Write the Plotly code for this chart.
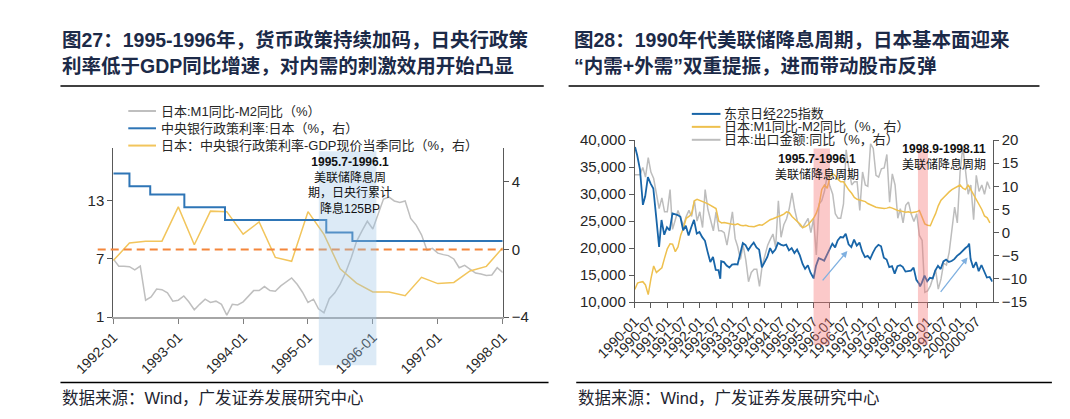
import plotly.graph_objects as go

W, H = 1070, 419


def px(x):
    return x / W


def py(y):
    return 1 - y / H


# ================= Fig.27 (left) data =================
left_months = [f"{1992 + i // 12}-{i % 12 + 1:02d}-01" for i in range(73)]
m1_m2_left = [7.0, 6.26, 6.26, 6.2, 5.87, 6.26, 2.74, 3.07, 3.89, 3.83, 3.5, 2.64,
              2.74, 3.17, 2.57, 1.75, 2.31, 2.84, 2.51, 2.64, 2.31, 1.2, 2.31, 2.25,
              2.57, 3.17, 3.73, 3.73, 4.15, 3.73, 3.66, 4.22, 4.61, 5.04, 4.38, 3.56,
              2.51, 2.84, 1.85, 1.43, 2.9, 3.5, 4.4, 5.6, 7.1, 8.8, 9.9, 10.9,
              10.1, 11.6, 13.2, 13.4, 13.0, 12.85, 13.0, 11.2, 10.5, 9.5, 7.9, 8.1,
              7.6, 7.45, 7.35, 7.0, 6.1, 6.35, 5.95, 5.55, 5.45, 5.3, 5.35, 6.1,
              5.6]
policy_dates = ["1992-01-01", "1992-04-01", "1992-07-27", "1993-02-04",
                "1993-09-21", "1995-04-14", "1995-09-08", "1998-01-01"]
policy_rate = [4.5, 3.75, 3.25, 2.5, 1.75, 1.0, 0.5, 0.5]
gap_quarters = [f"{1992 + i // 4}-{(i % 4) * 3 + 1:02d}-01" for i in range(25)]
rate_minus_gdp = [-0.66, 0.38, 0.49, 0.49, 2.52, 0.28, 2.27, 2.24, 0.91, 1.63,
                  -0.47, -0.7, 2.24, 0.89, -1.14, -1.99, -2.52, -2.52, -2.74,
                  -1.65, -2.02, -1.95, -1.27, -1.0, 0.1]
left_tickvals = [f"{y}-01-01" for y in range(1992, 1999)]
left_ticktext = [f"{y}-01" for y in range(1992, 1999)]

# ================= Fig.28 (right) data =================
right_months = [f"{1990 + i // 12}-{i % 12 + 1:02d}-01" for i in range(132)]
nikkei_close_dates = [f"{1990 + i // 12}-{i % 12 + 1:02d}-28" for i in range(132)]
nikkei_close = [37189, 34591, 29980, 29584, 33131, 31940, 31036, 25978, 20983, 25194, 22454, 23848,
                23293, 26409, 26292, 26111, 25790, 23290, 24121, 22336, 23916, 25222, 22687, 22984,
                22023, 21339, 19346, 17391, 18348, 15952, 15910, 17555, 17399, 16768, 16390, 16925,
                17024, 16953, 18591, 20919, 20552, 19590, 20380, 21027, 20106, 19703, 16408, 17417,
                18353, 19997, 19112, 19725, 20974, 20644, 20449, 20629, 19564, 19990, 19076, 19723,
                18650, 17053, 16140, 16807, 15437, 14517, 16678, 18117, 17913, 17655, 18744, 19868,
                20813, 20125, 21407, 22041, 21956, 22531, 20693, 20167, 21556, 20467, 21020, 19361,
                18330, 18557, 18003, 19151, 20069, 20605, 20331, 18229, 17888, 16459, 16636, 15259,
                16628, 16831, 16527, 15641, 15671, 15831, 16379, 14108, 13406, 13565, 14883, 13842,
                14499, 14368, 15837, 16701, 16112, 17530, 17862, 17437, 17605, 17942, 18558, 18934,
                19540, 19960, 20337, 17974, 16332, 17411, 15727, 16861, 15747, 14539, 14649, 13786]
nikkei_extreme_dates = ["1990-01-04", "1990-04-02", "1990-10-01", "1992-08-18",
                        "1995-07-03", "1996-06-26", "1998-10-09", "2000-04-12"]
nikkei_extreme = [38713, 28002, 20221, 14309, 14485, 22666, 12880, 20833]

m1_m2_right = [-12.3, -10.9, -10.7, -10.6, -11.3, -13.4, -10.0, -7.2, -8.6, -8.2, -7.6, -5.5,
               -3.5, -2.4, -2.5, -4.1, -3.1, -0.5, 1.0, 3.1, 3.5, 4.1, 6.9, 7.2,
               7.0, 6.8, 6.5, 6.2, 5.9, 5.5, 5.2, 2.5, 2.1, 2.2, 2.0, 1.9,
               1.8, 1.7, 1.9, 1.6, 1.5, 1.6, 1.4, 1.4, 1.3, 1.5, 1.7, 1.6,
               2.0, 2.4, 2.8, 3.0, 3.3, 3.5, 3.7, 4.0, 4.5, 4.3, 3.5, 3.0,
               2.4, 1.8, 1.1, 1.3, 1.7, 2.4, 3.1, 4.2, 5.9, 9.3, 10.3, 9.6,
               12.0, 12.7, 12.3, 11.5, 11.0, 11.0, 10.0, 9.2, 8.5, 7.6, 7.2, 7.0,
               6.9, 6.7, 6.3, 6.0, 5.7, 5.5, 5.4, 5.3, 5.2, 5.3, 5.5, 5.3,
               5.0, 4.8, 4.7, 4.5, 4.4, 4.5, 4.3, 4.4, 4.5, 4.8, 3.5, 1.9,
               1.6, 1.5, 2.8, 4.1, 5.8, 7.0, 7.6, 8.3, 8.8, 9.3, 9.6, 10.0,
               10.3, 9.6, 9.3, 10.3, 9.3, 8.3, 7.0, 6.0, 5.0, 3.6, 3.2, 2.1]
export_yoy = [12.5, 12.5, 12.5, 14.1, 12.0, 16.2, 13.1, 11.7, 8.3, 5.2, 7.5, 4.5,
              4.5, 9.3, 0.7, 2.8, 4.8, 3.1, 1.5, 3.5, 4.8, 3.5, 6.9, 2.5,
              4.5, 1.1, 9.3, 5.0, 3.0, 0.4, 4.5, 0.4, 0.4, 0.0, -2.7, 1.0,
              4.5, -1.3, -3.0, -5.8, -2.7, -6.0, -10.6, -8.6, -7.9, -7.9, -11.6, -7.2,
              -5.0, -2.7, -1.5, -0.3, -3.1, 6.9, -1.0, 1.7, 3.0, 5.2, 8.6, 5.0,
              2.4, 1.5, 1.1, 2.0, 3.1, 0.0, 3.0, -4.8, 6.2, 6.9, 9.0, 12.4,
              10.0, 8.3, 4.1, 3.1, 3.1, 6.2, 17.9, 13.8, 10.3, 11.0, 11.0, 4.8,
              13.1, 10.3, 10.0, 19.2, 18.2, 12.4, 12.0, 13.8, 14.0, 16.9, 6.6, 12.7,
              10.3, 3.1, 5.2, 2.1, 5.9, 6.6, 4.0, 2.4, 4.1, -0.6, -1.7, -12.9,
              -12.6, -11.5, -10.0, -8.0, -12.2, -10.0, -6.6, -7.0, -4.2, 0.5, 5.5, 2.1,
              13.1, 18.6, 14.1, 8.3, 10.3, 2.8, 12.4, 8.9, 10.3, 8.3, 11.0, 9.5]
right_tickvals = [f"{1990 + i // 2}-{'01' if i % 2 == 0 else '07'}-01" for i in range(22)]
right_ticktext = [t[:7] for t in right_tickvals]

# merge monthly closes with notable intramonth extremes (sorted by date)
nk_pairs = sorted(zip(nikkei_close_dates + nikkei_extreme_dates, nikkei_close + nikkei_extreme))
nk_dates = [d for d, _ in nk_pairs]
nk_vals = [v for _, v in nk_pairs]

# ================= styles =================
NUM_FONT = "Liberation Sans, Arial, sans-serif"
CJK_FONT = "Liberation Sans, Noto Sans CJK SC, sans-serif"
TXT = "#262626"
TITLE_COLOR = "#1C2A48"

GRAY_L = "#BFBFBF"
BLUE_L = "#2E75B6"
YEL_L = "#F2C55C"
BLUE_R = "#1865A8"
YEL_R = "#EEC04E"
GRAY_R = "#BDBDBD"

L_x = [px(67.3), px(475)]
L_y = [py(312.7), py(136.7)]
R_x = [px(613.3), px(988)]
R_y = [py(297.1), py(128.3)]

fig = go.Figure()

# ---- left traces ----
fig.add_trace(go.Scatter(x=left_months, y=m1_m2_left, xaxis="x", yaxis="y", mode="lines",
                         line=dict(color=GRAY_L, width=1.5)))
fig.add_trace(go.Scatter(x=gap_quarters, y=rate_minus_gdp, xaxis="x", yaxis="y2", mode="lines",
                         line=dict(color=YEL_L, width=1.5)))
fig.add_trace(go.Scatter(x=policy_dates, y=policy_rate, xaxis="x", yaxis="y2", mode="lines",
                         line=dict(color=BLUE_L, width=2, shape="hv")))

# ---- right traces ----
fig.add_trace(go.Scatter(x=right_months, y=export_yoy, xaxis="x2", yaxis="y3", mode="lines",
                         line=dict(color=GRAY_R, width=1.5)))
fig.add_trace(go.Scatter(x=right_months, y=m1_m2_right, xaxis="x2", yaxis="y3", mode="lines",
                         line=dict(color=YEL_R, width=1.5)))
fig.add_trace(go.Scatter(x=nk_dates, y=nk_vals, xaxis="x2", yaxis="y4", mode="lines",
                         line=dict(color=BLUE_R, width=1.8)))

axis_common = dict(showgrid=False, zeroline=False, showline=True, ticks="outside", ticklen=5)

fig.update_layout(
    width=W, height=H, margin=dict(l=0, r=0, t=0, b=0),
    paper_bgcolor="white", plot_bgcolor="rgba(0,0,0,0)", showlegend=False,
    xaxis=dict(domain=L_x, anchor="y", type="date", range=["1992-01-01", "1998-01-01"],
               tickmode="array", tickvals=left_tickvals, ticktext=left_ticktext, tickangle=-45,
               linecolor="#A6A6A6", linewidth=1.5, tickcolor="#7F7F7F",
               tickfont=dict(family=NUM_FONT, size=14, color=TXT), **axis_common),
    yaxis=dict(domain=L_y, anchor="x", range=[1, 18.46], tickmode="array", tickvals=[1, 7, 13],
               linecolor="#595959", linewidth=1, tickcolor="#595959",
               tickfont=dict(family=NUM_FONT, size=15, color=TXT), **axis_common),
    yaxis2=dict(overlaying="y", side="right", anchor="x", range=[-4, 6], tickmode="array",
                tickvals=[-4, 0, 4], linecolor="#595959", linewidth=1, tickcolor="#595959",
                tickfont=dict(family=NUM_FONT, size=15, color=TXT), **axis_common),
    xaxis2=dict(domain=R_x, anchor="y3", type="date", range=["1990-01-01", "2001-01-01"],
                tickmode="array", tickvals=right_tickvals, ticktext=right_ticktext, tickangle=-45,
                linecolor="#595959", linewidth=1, tickcolor="#595959",
                tickfont=dict(family=NUM_FONT, size=14, color=TXT), **axis_common),
    yaxis3=dict(domain=R_y, anchor="x2", side="right", range=[-15, 20], tickmode="linear",
                tick0=-15, dtick=5, linecolor="#595959", linewidth=1, tickcolor="#595959",
                tickfont=dict(family=NUM_FONT, size=15, color=TXT), **axis_common),
    yaxis4=dict(overlaying="y3", side="left", anchor="x2", range=[10000, 40000], tickmode="linear",
                tick0=10000, dtick=5000, tickformat=",", linecolor="#595959", linewidth=1,
                tickcolor="#595959", tickfont=dict(family=NUM_FONT, size=15, color=TXT),
                **axis_common),
)

shapes = []
# title underlines and footer rules
for x0, x1, y in [(12, 518, 72), (544, 1037, 72), (12, 523, 381), (552, 1050, 381)]:
    shapes.append(dict(type="line", xref="paper", yref="paper", x0=px(x0), x1=px(x1),
                       y0=py(y), y1=py(y), line=dict(color="black", width=1.5)))
# zero reference line (left panel, right axis)
shapes.append(dict(type="line", xref="paper", yref="y2", x0=px(51), x1=px(475), y0=0, y1=0,
                   line=dict(color="#F4863B", width=2, dash="8px,5px")))
# left shaded easing period
shapes.append(dict(type="rect", xref="x", yref="paper", x0="1995-03-03", x1="1996-01-21",
                   y0=py(363), y1=py(140), fillcolor="rgba(155,194,230,0.35)",
                   line=dict(width=0), layer="above"))
# right red easing bands
for a, b in [("1995-07-01", "1996-01-01"), ("1998-09-15", "1999-01-05")]:
    shapes.append(dict(type="rect", xref="x2", yref="paper", x0=a, x1=b,
                       y0=py(342), y1=py(137), fillcolor="rgba(245,120,120,0.4)",
                       line=dict(width=0), layer="above"))

# manual legends
left_legend = [("日本:M1同比-M2同比（%）", GRAY_L, 98),
               ("中央银行政策利率:日本（%，右）", BLUE_L, 116),
               ("日本：中央银行政策利率-GDP现价当季同比（%，右）", YEL_L, 134)]
right_legend = [("东京日经225指数", BLUE_R, 101),
                ("日本:M1同比-M2同比（%，右）", YEL_R, 114.5),
                ("日本:出口金额:同比（%，右）", GRAY_R, 128)]
annotations = []
for items, lx0, lx1, tx in [(left_legend, 83, 112, 116), (right_legend, 673, 703, 706)]:
    for text, color, y in items:
        shapes.append(dict(type="line", xref="paper", yref="paper", x0=px(lx0), x1=px(lx1),
                           y0=py(y), y1=py(y), line=dict(color=color, width=2)))
        annotations.append(dict(xref="paper", yref="paper", x=px(tx), y=py(y), text=text,
                                showarrow=False, xanchor="left", yanchor="middle", borderpad=0,
                                font=dict(family=CJK_FONT, size=13, color=TXT)))

# titles
titles = [("<b>图27：1995-1996年，货币政策持续加码，日央行政策</b>", 12, 24),
          ("<b>利率低于GDP同比增速，对内需的刺激效用开始凸显</b>", 12, 51),
          ("<b>图28：1990年代美联储降息周期，日本基本面迎来</b>", 548, 24),
          ("<b>“内需+外需”双重提振，进而带动股市反弹</b>", 548, 51)]
for text, x, y in titles:
    annotations.append(dict(xref="paper", yref="paper", x=px(x), y=py(y), text=text,
                            showarrow=False, xanchor="left", yanchor="middle",
                            font=dict(family=CJK_FONT, size=19.5, color=TITLE_COLOR)))

# footers
for x in [12, 552]:
    annotations.append(dict(xref="paper", yref="paper", x=px(x), y=py(397),
                            text="数据来源：Wind，广发证券发展研究中心", showarrow=False,
                            xanchor="left", yanchor="middle",
                            font=dict(family=CJK_FONT, size=16.5, color="#1E2430")))

# period notes
annotations.append(dict(xref="paper", yref="paper", x=px(315), y=py(175.5),
                        text="<b>1995.7-1996.1</b><br>美联储降息周<br>期，日央行累计<br>降息125BP",
                        showarrow=False, xanchor="center", yanchor="middle", align="center",
                        borderpad=0, font=dict(family=CJK_FONT, size=12, color="#111111")))
annotations.append(dict(xref="paper", yref="paper", x=px(804), y=py(156),
                        text="<b>1995.7-1996.1</b><br>美联储降息周期", showarrow=False,
                        xanchor="center", yanchor="middle", align="center", borderpad=0,
                        font=dict(family=CJK_FONT, size=12, color="#111111")))
annotations.append(dict(xref="paper", yref="paper", x=px(937), y=py(146),
                        text="<b>1998.9-1998.11</b><br>美联储降息周期", showarrow=False,
                        xanchor="center", yanchor="middle", align="center", borderpad=0,
                        font=dict(family=CJK_FONT, size=12, color="#111111")))

# rebound arrows (right panel)
arrow_tails = [("1995-09-27", 13750), ("1999-05-15", 11620)]
arrow_heads = [("1996-07-15", 19470), ("2000-03-25", 18260)]
for (tx_, ty_), (hx_, hy_) in zip(arrow_tails, arrow_heads):
    annotations.append(dict(xref="x2", yref="y4", axref="x2", ayref="y4", x=hx_, y=hy_,
                            ax=tx_, ay=ty_, text="", showarrow=True, arrowhead=2,
                            arrowsize=1, arrowwidth=1.3, arrowcolor="#7FB0E0"))

fig.update_layout(shapes=shapes, annotations=annotations)
fig.write_html("out.html")
